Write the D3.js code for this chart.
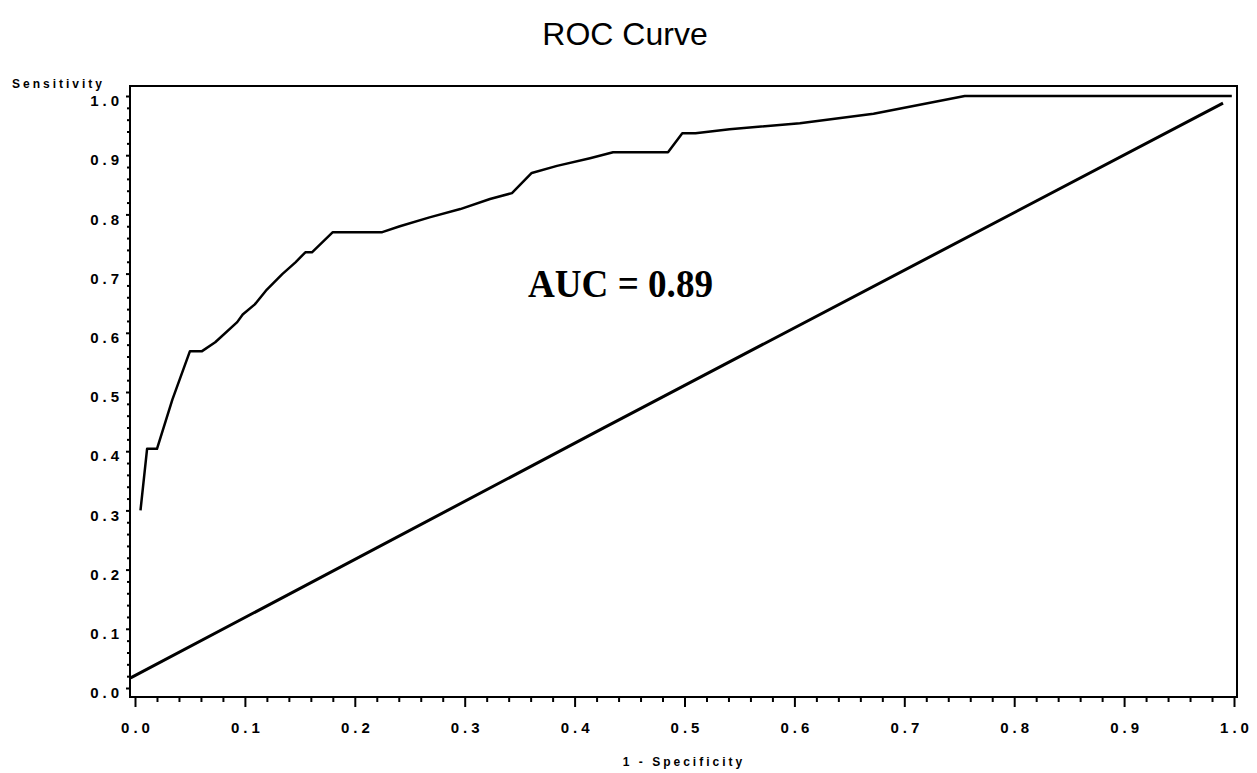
<!DOCTYPE html>
<html lang="en">
<head>
<meta charset="UTF-8" />
<title>ROC Curve</title>
<script src="https://d3js.org/d3.v7.min.js"></script>
<style>
  body { margin: 0; background: #fff; }
  svg { display: block; }
  text { fill: #000; font-family: 'Liberation Sans', Arial, sans-serif; }
  .tick text { font-size: 15px; font-weight: bold; letter-spacing: 4px; }
  .tick line { stroke: #000; stroke-width: 2; }
  text.title { font-size: 32px; }
  text.label { font-size: 12px; font-weight: bold; letter-spacing: 3px; }
  text.auc { font-family: 'Liberation Serif', 'Times New Roman', serif; font-size: 40px; font-weight: bold; }
</style>
</head>
<body>
<svg width="1257" height="773"></svg>
<script>
// ROC points (1 - specificity, sensitivity)
const rocFpr = [0.005, 0.011, 0.020, 0.034, 0.050, 0.061, 0.073, 0.093, 0.098, 0.109, 0.120, 0.134, 0.146,
                0.155, 0.161, 0.180, 0.225, 0.241, 0.268, 0.296, 0.323, 0.343, 0.361, 0.384, 0.414, 0.435,
                0.485, 0.498, 0.510, 0.541, 0.605, 0.672, 0.755, 0.998];
const rocTpr = [0.300, 0.404, 0.404, 0.487, 0.569, 0.569, 0.584, 0.618, 0.631, 0.648, 0.673, 0.699, 0.719,
                0.736, 0.736, 0.770, 0.770, 0.780, 0.795, 0.809, 0.826, 0.836, 0.870, 0.882, 0.895, 0.905,
                0.905, 0.937, 0.937, 0.944, 0.954, 0.970, 1.000, 1.000];

// reference (chance) line
const diagX = [-0.004, 0.423, 0.990];
const diagY = [0.017, 0.436, 0.988];

const majorTicks = [0, 0.1, 0.2, 0.3, 0.4, 0.5, 0.6, 0.7, 0.8, 0.9, 1.0];
const tickLabels = ['0.0', '0.1', '0.2', '0.3', '0.4', '0.5', '0.6', '0.7', '0.8', '0.9', '1.0'];
const minorTicks = d3.range(0, 51).map(i => i / 50).filter(v => Math.round(v * 50) % 5 !== 0);

const svg = d3.select('svg');

// frame box (axis range runs a little past 0 and 1)
const frame = { left: 130, right: 1237, top: 86, bottom: 697 };

const x = d3.scaleLinear().domain([0, 1]).range([135, 1234]);
const y = d3.scaleLinear().domain([0, 1]).range([688, 96]);

// x axis
const xAxis = svg.append('g')
  .attr('transform', `translate(0, ${frame.bottom})`)
  .call(d3.axisBottom(x)
    .tickValues(majorTicks)
    .tickSize(10)
    .tickPadding(15)
    .tickFormat((d, i) => tickLabels[i]));
xAxis.select('.domain').remove();
xAxis.selectAll('.tick text').attr('dx', 2);

svg.append('g')
  .attr('transform', `translate(0, ${frame.bottom})`)
  .call(d3.axisBottom(x).tickValues(minorTicks).tickSize(5).tickFormat(''))
  .select('.domain').remove();

// y axis
const yAxis = svg.append('g')
  .attr('transform', `translate(${frame.left}, 0)`)
  .call(d3.axisLeft(y)
    .tickValues(majorTicks)
    .tickSize(4)
    .tickPadding(3)
    .tickFormat((d, i) => tickLabels[i]));
yAxis.select('.domain').remove();
yAxis.selectAll('.tick text').attr('dy', '0.65em');

svg.append('g')
  .attr('transform', `translate(${frame.left}, 0)`)
  .call(d3.axisLeft(y).tickValues(minorTicks).tickSize(3).tickFormat(''))
  .select('.domain').remove();

svg.append('rect')
  .attr('x', frame.left)
  .attr('y', frame.top)
  .attr('width', frame.right - frame.left)
  .attr('height', frame.bottom - frame.top)
  .attr('fill', 'none')
  .attr('stroke', '#000')
  .attr('stroke-width', 2);

const line = d3.line().x(d => x(d[0])).y(d => y(d[1]));

svg.append('path')
  .datum(diagX.map((v, i) => [v, diagY[i]]))
  .attr('d', line)
  .attr('fill', 'none')
  .attr('stroke', '#000')
  .attr('stroke-width', 3);

svg.append('path')
  .datum(rocFpr.map((v, i) => [v, rocTpr[i]]))
  .attr('d', line)
  .attr('fill', 'none')
  .attr('stroke', '#000')
  .attr('stroke-width', 2.5)
  .attr('stroke-linejoin', 'round');

svg.append('text')
  .attr('class', 'title')
  .attr('x', 625)
  .attr('y', 45)
  .attr('text-anchor', 'middle')
  .text('ROC Curve');

svg.append('text')
  .attr('class', 'label')
  .attr('x', 12)
  .attr('y', 88)
  .text('Sensitivity');

svg.append('text')
  .attr('class', 'label')
  .attr('x', 684)
  .attr('y', 766)
  .attr('text-anchor', 'middle')
  .text('1 - Specificity');

svg.append('text')
  .attr('class', 'auc')
  .attr('x', 528)
  .attr('y', 297)
  .attr('textLength', 185)
  .attr('lengthAdjust', 'spacingAndGlyphs')
  .text('AUC = 0.89');
</script>
</body>
</html>
